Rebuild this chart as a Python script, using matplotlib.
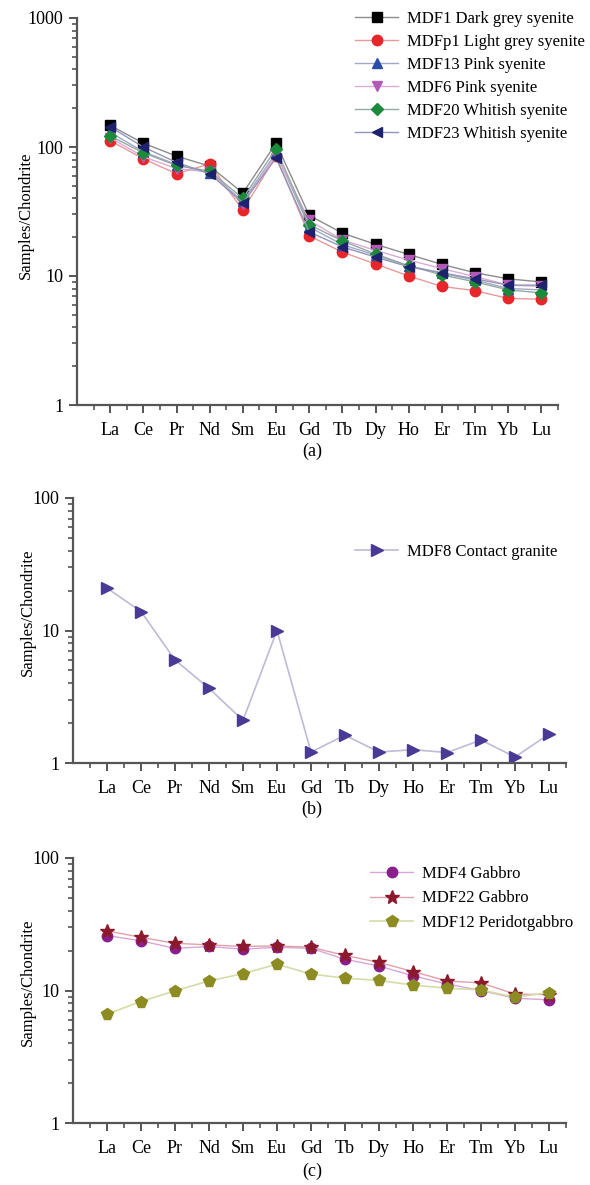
import numpy as np
import matplotlib
matplotlib.use('Agg')
import matplotlib.pyplot as plt
from matplotlib.ticker import LogLocator, FixedLocator, NullFormatter, FuncFormatter

plt.rcParams['font.family'] = ['Liberation Serif', 'DejaVu Serif']

elements = ['La', 'Ce', 'Pr', 'Nd', 'Sm', 'Eu', 'Gd', 'Tb', 'Dy', 'Ho', 'Er', 'Tm', 'Yb', 'Lu']

# (a) syenites
mdf1 = [147, 107, 85, 71, 44, 107, 29.5, 21.5, 17.6, 14.7, 12.3, 10.6, 9.5, 9.0]
mdfp1 = [112, 81, 62, 74, 32.3, 85, 20.5, 15.3, 12.4, 10.0, 8.3, 7.7, 6.7, 6.6]
mdf13 = [130, 92, 73, 63, 38, 90, 24, 17.5, 14.5, 12.0, 10.5, 9.3, 8.0, 7.8]
mdf6 = [118, 84, 68, 64, 36, 88, 27, 19, 15.8, 13.3, 11.4, 9.9, 8.5, 8.3]
mdf20 = [122, 90, 72, 65, 40, 97, 25, 18.7, 14.8, 12.0, 10.2, 9.0, 7.8, 7.4]
mdf23 = [143, 100, 76, 62, 37, 82, 22, 16.8, 14.0, 11.8, 10.6, 9.5, 8.5, 8.5]

# (b) contact granite
mdf8 = [20.9, 13.9, 6.0, 3.66, 2.1, 10.0, 1.21, 1.62, 1.21, 1.26, 1.2, 1.49, 1.11, 1.65]

# (c) gabbros
mdf4 = [26, 23.7, 20.8, 21.5, 20.5, 21.2, 20.8, 17.2, 15.3, 12.9, 11.2, 10.0, 8.75, 8.5]
mdf22 = [28.2, 25.2, 22.7, 22.1, 21.5, 21.7, 21.2, 18.4, 16.3, 13.9, 11.8, 11.4, 9.4, 9.3]
mdf12 = [6.63, 8.26, 9.95, 11.8, 13.4, 15.8, 13.3, 12.4, 11.9, 11.0, 10.4, 10.1, 8.9, 9.65]

x = np.arange(1, len(elements) + 1)


def style_axes(ax, ymax, label_x, label_y=0.5):
    ax.set_yscale('log')
    ax.set_ylim(1, ymax)
    ax.set_xlim(0, 14.5)
    ax.spines['top'].set_visible(False)
    ax.spines['right'].set_visible(False)
    for s in ['left', 'bottom']:
        ax.spines[s].set_color('#555555')
        ax.spines[s].set_linewidth(1.6)
    ax.set_xticks(x)
    ax.set_xticklabels(elements)
    ax.xaxis.set_minor_locator(FixedLocator(np.arange(0.5, 14.6, 0.5)))
    ax.yaxis.set_major_locator(LogLocator(base=10, numticks=10))
    ax.yaxis.set_minor_locator(LogLocator(base=10, subs=np.arange(2, 10), numticks=20))
    ax.yaxis.set_minor_formatter(NullFormatter())
    ax.yaxis.set_major_formatter(FuncFormatter(lambda v, p: '%d' % v))
    ax.tick_params(axis='both', which='major', direction='out', length=6, width=1.4,
                   color='#555555', labelsize=13, pad=4)
    ax.tick_params(axis='both', which='minor', direction='out', length=3.5, width=1.2,
                   color='#555555')
    ax.tick_params(axis='x', which='major', pad=6)
    ax.set_ylabel('Samples/Chondrite', fontsize=12)
    ax.yaxis.set_label_coords(label_x, label_y)


fig = plt.figure(figsize=(5.9, 11.85), dpi=100)

ax1 = fig.add_axes([77 / 590, 1 - 405 / 1185, 481 / 590, 387 / 1185])
ax2 = fig.add_axes([73 / 590, 1 - 763 / 1185, 493 / 590, 265 / 1185])
ax3 = fig.add_axes([73 / 590, 1 - 1123 / 1185, 493 / 590, 265 / 1185])

# panel a
ax1.plot(x, mdf1, '-', color='#8c8c8c', lw=1, marker='s', ms=7, mfc='black', mec='black',
         label='MDF1 Dark grey syenite')
ax1.plot(x, mdfp1, '-', color='#e89a9a', lw=1, marker='o', ms=7.5, mfc='#e8262a', mec='#e8262a',
         label='MDFp1 Light grey syenite')
ax1.plot(x, mdf13, '-', color='#a0a8c8', lw=1, marker='^', ms=7.5, mfc='#2c4aa8', mec='#2c4aa8',
         label='MDF13 Pink syenite')
ax1.plot(x, mdf6, '-', color='#dcaad8', lw=1, marker='v', ms=7.5, mfc='#b25ab8', mec='#b25ab8',
         label='MDF6 Pink syenite')
ax1.plot(x, mdf20, '-', color='#94aaa0', lw=1, marker='D', ms=6.5, mfc='#1b8a3a', mec='#1b8a3a',
         label='MDF20 Whitish syenite')
ax1.plot(x, mdf23, '-', color='#9296b8', lw=1, marker='<', ms=7.5, mfc='#1e226e', mec='#1e226e',
         label='MDF23 Whitish syenite')
style_axes(ax1, 1000, -0.09, 0.49)
ax1.legend(loc='upper left', bbox_to_anchor=(355 / 590, 1 - 11 / 1185), bbox_transform=fig.transFigure,
           frameon=False, fontsize=12, handlelength=2.6, handletextpad=0.5, labelspacing=0.42,
           borderaxespad=0, borderpad=0)

# panel b
ax2.plot(x, mdf8, '-', color='#c0bad8', lw=1.2, marker='>', ms=8, mfc='#4a3a96', mec='#4a3a96',
         label='MDF8 Contact granite')
style_axes(ax2, 100, -0.075, 0.57)
ax2.legend(loc='upper left', bbox_to_anchor=(355 / 590, 1 - 544 / 1185), bbox_transform=fig.transFigure,
           frameon=False, fontsize=12, handlelength=2.6, handletextpad=0.5,
           borderaxespad=0, borderpad=0)

# panel c
ax3.plot(x, mdf4, '-', color='#d8a6d8', lw=1, marker='o', ms=7.5, mfc='#8a1e8c', mec='#8a1e8c',
         label='MDF4 Gabbro')
ax3.plot(x, mdf22, '-', color='#e0a0a8', lw=1, marker='*', ms=10, mfc='#8c1a2c', mec='#8c1a2c',
         label='MDF22 Gabbro')
ax3.plot(x, mdf12, '-', color='#d4dca8', lw=1.2, marker='p', ms=8.5, mfc='#8c8c22', mec='#8c8c22',
         label='MDF12 Peridotgabbro')
style_axes(ax3, 100, -0.075, 0.53)
ax3.legend(loc='upper left', bbox_to_anchor=(370 / 590, 1 - 866 / 1185), bbox_transform=fig.transFigure,
           frameon=False, fontsize=12, handlelength=2.6, handletextpad=0.5, labelspacing=0.5,
           borderaxespad=0, borderpad=0)

fig.text(312 / 590, 1 - 451 / 1185, '(a)', ha='center', va='center', fontsize=13)
fig.text(312 / 590, 1 - 809 / 1185, '(b)', ha='center', va='center', fontsize=13)
fig.text(312 / 590, 1 - 1171 / 1185, '(c)', ha='center', va='center', fontsize=13)

fig.savefig('out.png', dpi=100)
